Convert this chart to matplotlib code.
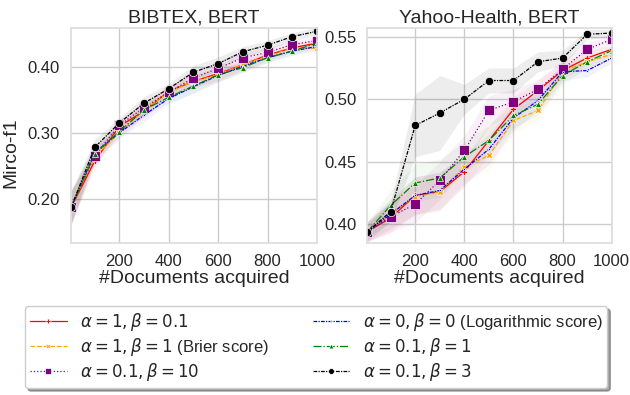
import matplotlib
matplotlib.use('Agg')
import matplotlib.pyplot as plt
import seaborn as sns
import numpy as np

sns.set_theme(style='whitegrid')
plt.rcParams['font.family'] = ['Liberation Sans', 'DejaVu Sans']
plt.rcParams['mathtext.fontset'] = 'dejavusans'

docs = [5, 100, 200, 300, 400, 500, 600, 700, 800, 900, 1000]

labels = [r'$\alpha=1, \beta=0.1$',
          r'$\alpha=1, \beta=1$ (Brier score)',
          r'$\alpha=0.1, \beta=10$',
          r'$\alpha=0, \beta=0$ (Logarithmic score)',
          r'$\alpha=0.1, \beta=1$',
          r'$\alpha=0.1, \beta=3$']
colors = ['red', 'orange', 'purple', 'blue', 'green', 'black']
markers = ['P', 'X', 's', '.', '^', 'o']
msizes = [5, 5, 7, 3, 5, 6]
lstyles = ['-', '--', ':', (0, (3, 1, 1, 1)), '-.', (0, (3, 1, 1, 1))]

# BIBTEX, BERT
bib_red    = [0.187, 0.257, 0.310, 0.333, 0.363, 0.378, 0.390, 0.403, 0.418, 0.429, 0.436]
bib_orange = [0.187, 0.264, 0.300, 0.334, 0.362, 0.378, 0.388, 0.404, 0.416, 0.429, 0.428]
bib_purple = [0.187, 0.265, 0.312, 0.338, 0.362, 0.383, 0.398, 0.414, 0.422, 0.434, 0.440]
bib_blue   = [0.187, 0.270, 0.300, 0.327, 0.352, 0.370, 0.387, 0.401, 0.414, 0.424, 0.431]
bib_green  = [0.187, 0.268, 0.302, 0.335, 0.354, 0.371, 0.388, 0.399, 0.414, 0.424, 0.436]
bib_black  = [0.187, 0.278, 0.315, 0.345, 0.367, 0.392, 0.405, 0.423, 0.433, 0.446, 0.454]
bib_spread = [0.025, 0.012, 0.008, 0.010, 0.008, 0.010, 0.010, 0.008, 0.007, 0.006, 0.006]

# Yahoo-Health, BERT
yah_red    = [0.394, 0.405, 0.423, 0.426, 0.442, 0.467, 0.492, 0.507, 0.523, 0.533, 0.540]
yah_orange = [0.394, 0.409, 0.422, 0.426, 0.446, 0.455, 0.483, 0.491, 0.522, 0.530, 0.536]
yah_purple = [0.394, 0.406, 0.416, 0.435, 0.459, 0.491, 0.498, 0.508, 0.524, 0.540, 0.548]
yah_blue   = [0.394, 0.408, 0.423, 0.427, 0.444, 0.460, 0.485, 0.499, 0.522, 0.523, 0.533]
yah_green  = [0.394, 0.415, 0.433, 0.437, 0.454, 0.467, 0.487, 0.496, 0.519, 0.530, 0.539]
yah_black  = [0.394, 0.410, 0.479, 0.489, 0.500, 0.515, 0.515, 0.530, 0.533, 0.552, 0.553]
yah_spread = [0.008, 0.012, 0.015, 0.015, 0.012, 0.012, 0.010, 0.008, 0.007, 0.005, 0.004]
yah_black_spread = [0.006, 0.008, 0.025, 0.030, 0.012, 0.010, 0.010, 0.008, 0.006, 0.004, 0.003]

bib = [bib_red, bib_orange, bib_purple, bib_blue, bib_green, bib_black]
yah = [yah_red, yah_orange, yah_purple, yah_blue, yah_green, yah_black]

fig = plt.figure(figsize=(6.3, 3.95), dpi=100)
ax1 = fig.add_axes([0.113, 0.385, 0.39, 0.544])
ax2 = fig.add_axes([0.583, 0.385, 0.388, 0.544])

x = np.array(docs)
for ax, series, title in [(ax1, bib, 'BIBTEX, BERT'), (ax2, yah, 'Yahoo-Health, BERT')]:
    for i, y in enumerate(series):
        y = np.array(y)
        if ax is ax1:
            s = np.array(bib_spread)
        elif i == 5:
            s = np.array(yah_black_spread)
        else:
            s = np.array(yah_spread)
        ax.fill_between(x, y - s, y + s, color=colors[i], alpha=0.05 if i != 5 else 0.07, lw=0)
        ax.plot(x, y, color=colors[i], ls=lstyles[i], lw=0.9, marker=markers[i],
                ms=msizes[i], mec='white', mew=0.5, label=labels[i])
    ax.set_title(title, fontsize=14, pad=4)
    ax.set_xlabel('#Documents acquired', fontsize=14, labelpad=1)
    ax.set_xlim(5, 1000)
    ax.set_xticks([200, 400, 600, 800, 1000])
    ax.tick_params(labelsize=12, pad=2)
    for sp in ax.spines.values():
        sp.set_color('#dddddd')

ax1.set_ylim(0.133, 0.459)
ax1.set_yticks([0.2, 0.3, 0.4])
ax1.set_yticklabels(['0.20', '0.30', '0.40'])
ax1.set_ylabel('Mirco-f1', fontsize=14)
ax1.yaxis.set_label_coords(-0.21, 0.42)
ax2.set_ylim(0.385, 0.557)
ax2.set_yticks([0.40, 0.45, 0.50, 0.55])
ax2.set_yticklabels(['0.40', '0.45', '0.50', '0.55'])

handles, labs = ax1.get_legend_handles_labels()
fig.legend(handles, labs, loc='lower center', bbox_to_anchor=(0.502, -0.004), ncol=2,
           fontsize=12, frameon=True, shadow=True, handlelength=2.2, markerscale=0.7,
           columnspacing=2.6, labelspacing=0.18, borderpad=0.3)

plt.savefig('out.png', dpi=100)
